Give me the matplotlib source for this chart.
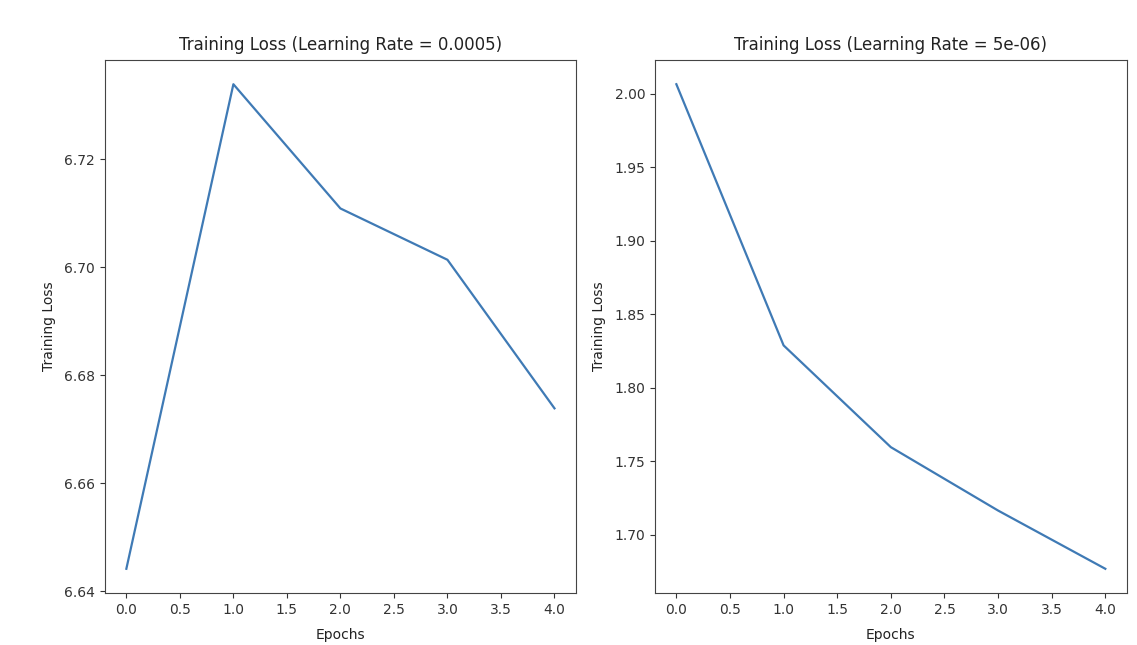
import matplotlib
matplotlib.use("Agg")
import matplotlib.pyplot as plt

epochs = [0, 1, 2, 3, 4]
loss_lr_5e4 = [6.6442, 6.7339, 6.7109, 6.7014, 6.6739]
loss_lr_5e6 = [2.0065, 1.8289, 1.7597, 1.7166, 1.6770]
titles = ["Training Loss (Learning Rate = 0.0005)", "Training Loss (Learning Rate = 5e-06)"]
xticks = [0.0, 0.5, 1.0, 1.5, 2.0, 2.5, 3.0, 3.5, 4.0]

fig = plt.figure(figsize=(11.37, 6.45), dpi=100)
ax1 = fig.add_axes([0.0923, 0.0806, 0.4142, 0.8264])
ax2 = fig.add_axes([0.576, 0.0806, 0.415, 0.8264])

for ax, data, title in [(ax1, loss_lr_5e4, titles[0]), (ax2, loss_lr_5e6, titles[1])]:
    ax.plot(epochs, data, color="#3f7ab5", linewidth=1.6)
    ax.set_title(title, fontsize=12, color="#222222", pad=7)
    ax.set_xlabel("Epochs", fontsize=10, color="#222222", labelpad=8)
    ax.set_ylabel("Training Loss", fontsize=10, color="#222222", labelpad=6)
    ax.set_xticks(xticks)
    ax.tick_params(labelsize=10, colors="#333333")
    for s in ax.spines.values():
        s.set_color("#444444")

fig.savefig("out.png", dpi=100)
